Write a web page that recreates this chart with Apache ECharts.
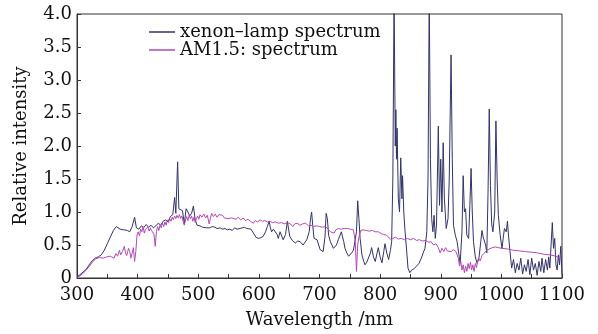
<!DOCTYPE html>
<html><head><meta charset="utf-8">
<script src="https://cdn.jsdelivr.net/npm/echarts@6/dist/echarts.min.js"></script>
<style>html,body{margin:0;padding:0;background:#fff}#c{width:598px;height:334px}</style>
</head><body><div id="c"></div>
<script>
const seriesNames = ['xenon\u2013lamp spectrum', 'AM1.5: spectrum'];
const xenonWl = [300,305,310,315,320,325,330,335,340,345,350,355,360,365,368,371,374,377,380,383,387,391,395,398,402,406,410,414,418,422,426,430,434,438,442,446,450,454,458,461,463,466,468,471,474,477,480,483,486,489,492,495,498,503,507,510,514,519,523,527,531,536,540,544,548,552,556,560,564,569,572,576,580,583,587,591,595,599,603,607,611,614,617,619,621,624,627,630,632,635,637,640,644,647,649,651,655,660,664,668,673,676,679,683,685,687,689,691,696,701,706,709,711,713,715,718,723,728,731,734,736,738,740,742,745,748,751,753,756,759,761,763,765,767,770,773,775,778,781,784,786,789,792,795,797,800,803,806,808,811,814,817,819,821,823,825,826,827,828,830,832,834,836,837,839,841,843,846,849,852,856,860,864,868,871,874,877,879,881,883,885,887,889,891,893,896,898,900,902,904,906,909,912,914,917,919,921,924,927,930,932,935,937,939,941,943,946,948,950,952,954,957,960,963,966,968,970,972,974,976,978,980,982,984,986,989,991,993,995,998,1001,1003,1005,1008,1010,1012,1014,1017,1020,1023,1026,1029,1032,1035,1038,1041,1044,1047,1050,1053,1056,1059,1062,1065,1067,1070,1073,1076,1078,1080,1082,1084,1086,1088,1090,1092,1094,1096,1098,1100];
const xenonVal = [0.02,0.05,0.09,0.13,0.2,0.26,0.3,0.32,0.35,0.42,0.52,0.62,0.72,0.78,0.79,0.74,0.77,0.73,0.76,0.72,0.70,0.78,0.92,0.76,0.74,0.79,0.76,0.81,0.77,0.80,0.76,0.79,0.83,0.80,0.86,0.88,0.85,0.93,0.96,1.22,0.98,1.76,1.05,1.08,1.02,0.82,1.05,1.0,0.94,0.98,1.09,0.88,0.80,0.79,0.77,0.78,0.76,0.76,0.78,0.77,0.75,0.76,0.74,0.75,0.73,0.74,0.72,0.76,0.74,0.75,0.73,0.77,0.75,0.78,0.74,0.68,0.62,0.60,0.61,0.63,0.70,0.78,0.86,0.76,0.70,0.74,0.73,0.66,0.60,0.70,0.72,0.58,0.66,0.86,0.74,0.63,0.57,0.53,0.56,0.55,0.50,0.53,0.58,0.70,0.88,1.0,0.78,0.60,0.58,0.43,0.40,0.62,0.98,0.90,0.65,0.55,0.45,0.50,0.58,0.65,0.70,0.72,0.55,0.45,0.38,0.33,0.36,0.38,0.42,0.40,0.7,1.17,0.9,0.6,0.35,0.25,0.20,0.24,0.25,0.38,0.46,0.32,0.25,0.38,0.46,0.32,0.23,0.40,0.52,0.38,0.28,0.42,0.55,1.5,4.3,2.0,2.55,1.8,2.27,1.2,1.0,1.82,1.2,1.55,1.0,0.72,0.5,0.15,0.08,0.12,0.14,0.18,0.22,0.30,0.38,0.45,0.70,1.5,4.3,1.8,0.9,0.70,0.95,0.6,0.8,2.3,1.1,1.8,1.0,2.05,1.2,0.75,0.9,1.5,3.38,1.8,0.8,0.65,0.55,0.35,0.22,0.7,1.55,1.0,1.05,0.65,0.6,1.1,1.66,1.0,0.55,0.32,0.22,0.3,0.55,0.72,0.62,0.65,0.5,0.38,1.3,2.56,1.4,0.82,0.7,1.0,2.38,1.5,0.95,0.65,0.45,0.6,0.75,0.7,0.86,0.62,0.42,0.15,0.28,0.08,0.22,0.12,0.3,0.06,0.2,0.1,0.28,0.05,0.3,0.12,0.22,0.04,0.25,0.1,0.3,0.08,0.28,0.12,0.32,0.15,0.5,0.84,0.45,0.6,0.2,0.12,0.35,0.2,0.48,0.05];
const amWl = [300,305,310,315,320,325,328,331,334,337,340,343,346,349,352,355,358,361,364,367,370,372,375,378,380,382,385,387,389,391,393,395,397,399,401,403,405,407,409,411,413,415,417,419,421,423,425,427,429,431,433,435,437,439,441,443,445,447,449,451,453,455,457,459,461,463,465,467,469,471,473,475,477,479,481,483,485,487,489,491,493,495,497,499,501,503,506,509,512,515,518,520,522,525,528,531,534,537,540,543,546,549,552,555,558,562,566,570,574,578,582,586,589,591,594,598,602,606,610,614,618,622,627,632,637,642,647,652,656,659,663,668,672,677,682,686,690,695,700,705,710,714,718,721,724,727,731,736,741,746,751,756,759,761,763,765,768,772,777,782,787,792,797,802,806,810,814,818,821,825,830,835,840,845,850,855,860,865,870,875,880,884,888,892,896,899,902,905,908,911,914,917,921,925,929,931,933,935,937,939,941,943,945,947,949,951,953,955,957,959,962,965,968,972,976,980,985,990,995,1000,1010,1020,1030,1040,1050,1060,1070,1080,1090,1096,1098,1100];
const amVal = [0.01,0.03,0.07,0.12,0.17,0.24,0.27,0.29,0.26,0.31,0.28,0.30,0.27,0.32,0.29,0.33,0.36,0.30,0.37,0.33,0.42,0.35,0.40,0.48,0.38,0.34,0.45,0.40,0.30,0.33,0.46,0.25,0.40,0.65,0.70,0.64,0.74,0.70,0.78,0.68,0.74,0.72,0.77,0.71,0.76,0.72,0.75,0.66,0.48,0.70,0.78,0.72,0.80,0.76,0.83,0.78,0.85,0.80,0.88,0.84,0.90,0.86,0.92,0.88,0.94,0.90,0.95,0.91,0.96,0.90,0.94,0.86,0.80,0.88,0.93,0.87,0.95,0.90,0.94,0.86,0.92,0.84,0.90,0.94,0.89,0.96,0.92,0.97,0.91,0.95,0.82,0.90,0.98,0.93,0.97,0.92,0.96,0.93,0.95,0.91,0.94,0.90,0.93,0.91,0.92,0.89,0.92,0.88,0.91,0.87,0.89,0.86,0.87,0.83,0.87,0.85,0.88,0.86,0.87,0.85,0.86,0.84,0.85,0.83,0.84,0.82,0.84,0.82,0.78,0.82,0.83,0.80,0.82,0.83,0.79,0.80,0.78,0.79,0.78,0.77,0.78,0.74,0.70,0.72,0.68,0.73,0.75,0.74,0.75,0.75,0.74,0.73,0.55,0.1,0.5,0.62,0.72,0.73,0.72,0.71,0.72,0.70,0.70,0.67,0.66,0.65,0.62,0.58,0.60,0.62,0.59,0.60,0.58,0.60,0.58,0.60,0.57,0.58,0.56,0.57,0.54,0.55,0.50,0.52,0.46,0.38,0.45,0.40,0.46,0.41,0.44,0.40,0.43,0.40,0.30,0.18,0.25,0.12,0.20,0.08,0.18,0.10,0.22,0.14,0.24,0.12,0.20,0.10,0.22,0.16,0.30,0.26,0.34,0.38,0.42,0.44,0.46,0.47,0.46,0.45,0.44,0.42,0.41,0.40,0.39,0.38,0.36,0.35,0.33,0.30,0.34,0.36];
const xTicks = [300,400,500,600,700,800,900,1000,1100];
const yTicks = [0,0.5,1.0,1.5,2.0,2.5,3.0,3.5,4.0];

const FONT = 'DejaVu Serif';
const pair = (wl, v) => wl.map((w, i) => [w, v[i]]);
const chart = echarts.init(document.getElementById('c'));
chart.setOption({
  animation: false,
  backgroundColor: '#fff',
  grid: {left: 77, right: 36, top: 14, bottom: 54, show: true, borderColor: '#333', borderWidth: 1},
  legend: {
    orient: 'vertical', left: 144, top: 18, itemGap: 0,
    itemWidth: 26, itemHeight: 1.5, icon: 'rect',
    textStyle: {fontFamily: FONT, fontSize: 18, color: '#111'},
    data: seriesNames
  },
  xAxis: {
    type: 'value', min: xTicks[0], max: xTicks[xTicks.length - 1], interval: 100,
    name: 'Wavelength /nm', nameLocation: 'middle', nameGap: 33,
    nameTextStyle: {fontFamily: FONT, fontSize: 18, color: '#111'},
    axisLine: {lineStyle: {color: '#333', width: 1}},
    axisTick: {inside: true, length: 4, lineStyle: {color: '#333'}},
    minorTick: {show: true, splitNumber: 2, length: 4, lineStyle: {color: '#333'}},
    splitLine: {show: false},
    axisLabel: {fontFamily: FONT, fontSize: 18, color: '#111', margin: 8,
      formatter: v => String(v)}
  },
  yAxis: {
    type: 'value', min: yTicks[0], max: yTicks[yTicks.length - 1], interval: 0.5,
    name: 'Relative intensity', nameLocation: 'middle', nameGap: 47,
    nameTextStyle: {fontFamily: FONT, fontSize: 18, color: '#111'},
    axisLine: {show: true, lineStyle: {color: '#333', width: 1}},
    axisTick: {show: true, inside: true, length: 4, lineStyle: {color: '#333'}},
    splitLine: {show: false},
    axisLabel: {fontFamily: FONT, fontSize: 18, color: '#111', margin: 5,
      formatter: v => v === 0 ? '0' : v.toFixed(1)}
  },
  series: [
    {name: seriesNames[0], type: 'line', data: pair(xenonWl, xenonVal), showSymbol: false,
      lineStyle: {color: '#333366', width: 1}, itemStyle: {color: '#333366'}, clip: true},
    {name: seriesNames[1], type: 'line', data: pair(amWl, amVal), showSymbol: false,
      lineStyle: {color: '#b24ab4', width: 1}, itemStyle: {color: '#b24ab4'}, clip: true}
  ]
});
</script></body></html>
